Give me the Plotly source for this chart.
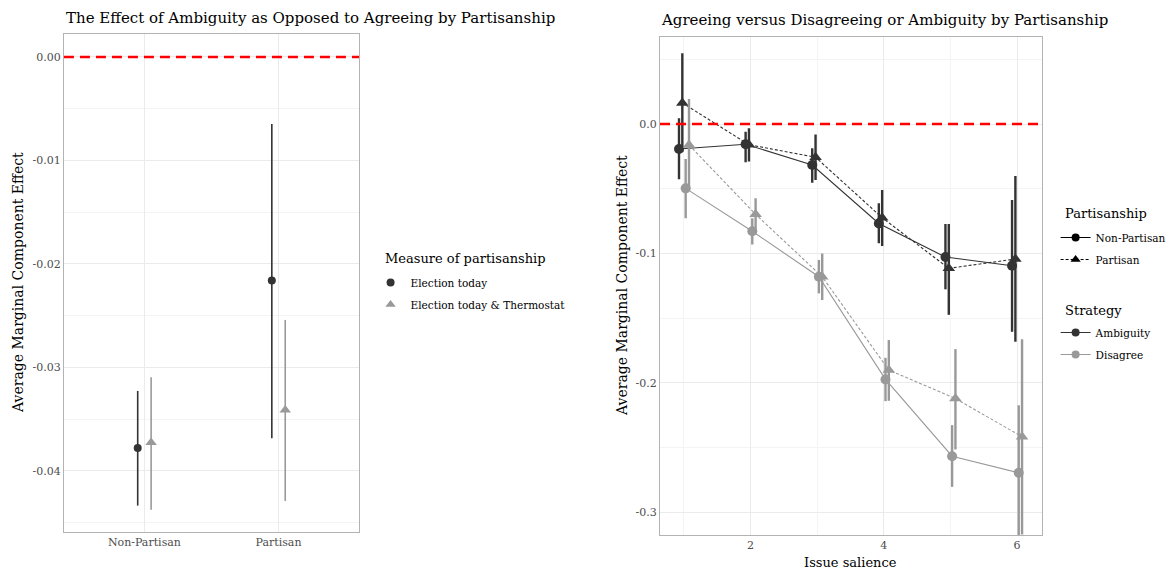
import plotly.graph_objects as go

FONT = "DejaVu Serif"
DARK = "#333333"
GREY = "#999999"
GRID = "#ebebeb"
MINOR = "#f4f4f4"
BORDER = "#b3b3b3"
TICKCOL = "#4d4d4d"
W, H = 1169, 571

# ---- Left panel: effect of ambiguity vs. agreeing, by partisanship ----
groups = ["Non-Partisan", "Partisan"]
elec = [-0.03778, -0.02161]
elec_lo = [-0.04335, -0.03684]
elec_hi = [-0.03227, -0.00647]
thermo = [-0.03726, -0.03411]
thermo_lo = [-0.04374, -0.04290]
thermo_hi = [-0.03095, -0.02541]
left_yticks = [0.0, -0.01, -0.02, -0.03, -0.04]
left_yticktext = ["0.00", "-0.01", "-0.02", "-0.03", "-0.04"]

# ---- Right panel: agreeing vs. disagreeing / ambiguity by issue salience ----
salience = [1, 2, 3, 4, 5, 6]
amb_np = [-0.0193, -0.0157, -0.0317, -0.0768, -0.1028, -0.1095]
amb_np_lo = [-0.0427, -0.0296, -0.0453, -0.0922, -0.1277, -0.1605]
amb_np_hi = [0.0044, -0.0060, -0.0188, -0.0613, -0.0773, -0.0587]
amb_p = [0.0163, -0.0160, -0.0257, -0.0724, -0.1115, -0.1043]
amb_p_lo = [-0.0215, -0.0290, -0.0432, -0.0943, -0.1474, -0.1682]
amb_p_hi = [0.0546, -0.0033, -0.0082, -0.0510, -0.0773, -0.0402]
dis_np = [-0.0497, -0.0829, -0.1180, -0.1973, -0.2566, -0.2694]
dis_np_lo = [-0.0729, -0.0930, -0.1308, -0.2141, -0.2803, -0.3216]
dis_np_hi = [-0.0270, -0.0728, -0.1050, -0.1806, -0.2326, -0.2172]
dis_p = [-0.0162, -0.0698, -0.1180, -0.1901, -0.2120, -0.2416]
dis_p_lo = [-0.0517, -0.0820, -0.1360, -0.2138, -0.2514, -0.3170]
dis_p_hi = [0.0193, -0.0574, -0.1000, -0.1669, -0.1739, -0.1662]
right_yticks = [0.0, -0.1, -0.2, -0.3]
right_yticktext = ["0.0", "-0.1", "-0.2", "-0.3"]


def err(y, lo, hi, color, thick):
    return dict(type="data", symmetric=False,
                array=[h - v for v, h in zip(y, hi)],
                arrayminus=[v - l for v, l in zip(y, lo)],
                width=0, thickness=thick, color=color)


fig = go.Figure()

# left panel points (dodged around each category)
DODGE_L = 0.05
pos_l = [1, 2]
fig.add_trace(go.Scatter(
    x=[p - DODGE_L for p in pos_l], y=elec, mode="markers",
    marker=dict(symbol="circle", size=8, color=DARK),
    error_y=err(elec, elec_lo, elec_hi, DARK, 1.6),
    xaxis="x", yaxis="y", showlegend=False, hoverinfo="skip"))
fig.add_trace(go.Scatter(
    x=[p + DODGE_L for p in pos_l], y=thermo, mode="markers",
    marker=dict(symbol="triangle-up", size=10, color=GREY),
    error_y=err(thermo, thermo_lo, thermo_hi, GREY, 1.6),
    xaxis="x", yaxis="y", showlegend=False, hoverinfo="skip"))

# right panel series: (values, lo, hi, color, symbol, dash, dodge)
series = [
    (amb_np, amb_np_lo, amb_np_hi, DARK, "circle", "solid", -0.075),
    (amb_p, amb_p_lo, amb_p_hi, DARK, "triangle-up", "3px,2px", -0.025),
    (dis_np, dis_np_lo, dis_np_hi, GREY, "circle", "solid", 0.025),
    (dis_p, dis_p_lo, dis_p_hi, GREY, "triangle-up", "3px,2px", 0.075),
]
for vals, lo, hi, col, sym, dash, off in series:
    xs = [s + off for s in salience]
    fig.add_trace(go.Scatter(
        x=xs, y=vals, mode="lines", line=dict(color=col, width=1.1, dash=dash),
        xaxis="x2", yaxis="y2", showlegend=False, hoverinfo="skip"))
for vals, lo, hi, col, sym, dash, off in series:
    xs = [s + off for s in salience]
    fig.add_trace(go.Scatter(
        x=xs, y=vals, mode="markers",
        marker=dict(symbol=sym, size=10 if sym == "circle" else 11, color=col),
        error_y=err(vals, lo, hi, col, 2.4),
        xaxis="x2", yaxis="y2", showlegend=False, hoverinfo="skip"))

# legend entries
legend_items = [
    ("Election today", "markers", "circle", DARK, "solid", "legend", "x", "y"),
    ("Election today & Thermostat", "markers", "triangle-up", GREY, "solid", "legend", "x", "y"),
    ("Non-Partisan", "lines+markers", "circle", "black", "solid", "legend2", "x2", "y2"),
    ("Partisan", "lines+markers", "triangle-up", "black", "3px,2px", "legend2", "x2", "y2"),
    ("Ambiguity", "lines+markers", "circle", DARK, "solid", "legend3", "x2", "y2"),
    ("Disagree", "lines+markers", "circle", GREY, "solid", "legend3", "x2", "y2"),
]
for name, mode, sym, col, dash, leg, xa, ya in legend_items:
    fig.add_trace(go.Scatter(
        x=[None], y=[None], mode=mode, name=name, legendgroup=name,
        marker=dict(symbol=sym, size=8 if sym == "circle" else 9, color=col),
        line=dict(color=col, width=1.2, dash=dash),
        legend=leg, xaxis=xa, yaxis=ya))

axis_common = dict(showline=True, mirror=True, linecolor=BORDER, linewidth=1,
                   showgrid=True, gridcolor=GRID, gridwidth=1, zeroline=False,
                   ticks="", tickfont=dict(family=FONT, size=11, color=TICKCOL))

legend_common = dict(xanchor="left", yanchor="top", tracegroupgap=3,
                     font=dict(size=10.5, family=FONT, color="black"),
                     bgcolor="rgba(0,0,0,0)")


def text_note(text, px, py, size, anchor="left", angle=0):
    return dict(text=text, xref="paper", yref="paper", x=px / W, y=1 - py / H,
                xanchor=anchor, yanchor="middle", showarrow=False, textangle=angle,
                font=dict(size=size, family=FONT, color="black"))


fig.update_layout(
    width=W, height=H,
    margin=dict(l=0, r=0, t=0, b=0, autoexpand=False),
    paper_bgcolor="white", plot_bgcolor="white",
    font=dict(family=FONT, color="black"),
    xaxis=dict(domain=[0.0547, 0.3071], range=[0.4, 2.6],
               tickmode="array", tickvals=pos_l, ticktext=groups, **axis_common),
    yaxis=dict(domain=[0.0683, 0.9405], range=[-0.0459, 0.00222],
               tickmode="array", tickvals=left_yticks, ticktext=left_yticktext,
               minor=dict(tickmode="array", tickvals=[-0.005, -0.015, -0.025, -0.035, -0.045],
                          showgrid=True, gridcolor=MINOR, ticks=""),
               **axis_common),
    xaxis2=dict(domain=[0.5646, 0.8911], range=[0.64, 6.37], anchor="y2",
                tickmode="array", tickvals=[2, 4, 6], ticktext=["2", "4", "6"],
                minor=dict(tickmode="array", tickvals=[1, 3, 5],
                           showgrid=True, gridcolor=MINOR, ticks=""),
                **axis_common),
    yaxis2=dict(domain=[0.063, 0.9352], range=[-0.3175, 0.0672], anchor="x2",
                tickmode="array", tickvals=right_yticks, ticktext=right_yticktext,
                minor=dict(tickmode="array", tickvals=[0.05, -0.05, -0.15, -0.25],
                           showgrid=True, gridcolor=MINOR, ticks=""),
                **axis_common),
    legend=dict(x=0.317, y=1 - 268 / H, **legend_common),
    legend2=dict(x=0.903, y=1 - 223 / H, **legend_common),
    legend3=dict(x=0.903, y=1 - 318 / H, **legend_common),
    shapes=[
        dict(type="line", xref="x domain", x0=0, x1=1, yref="y", y0=0, y1=0,
             line=dict(color="red", width=2.6, dash="10px,6px"), layer="above"),
        dict(type="line", xref="x2 domain", x0=0, x1=1, yref="y2", y0=0, y1=0,
             line=dict(color="red", width=2.6, dash="10px,6px"), layer="above"),
    ],
    annotations=[
        text_note("The Effect of Ambiguity as Opposed to Agreeing by Partisanship", 64, 18, 15),
        text_note("Agreeing versus Disagreeing or Ambiguity by Partisanship", 659, 20, 15),
        text_note("Average Marginal Component Effect", 18, 283, 14, "center", -90),
        text_note("Average Marginal Component Effect", 622, 286, 14, "center", -90),
        text_note("Issue salience", 851, 562, 13, "center"),
        text_note("Measure of partisanship", 383, 258, 13),
        text_note("Partisanship", 1063, 213, 13),
        text_note("Strategy", 1063, 310, 13),
    ],
)

fig.write_html("out.html")
